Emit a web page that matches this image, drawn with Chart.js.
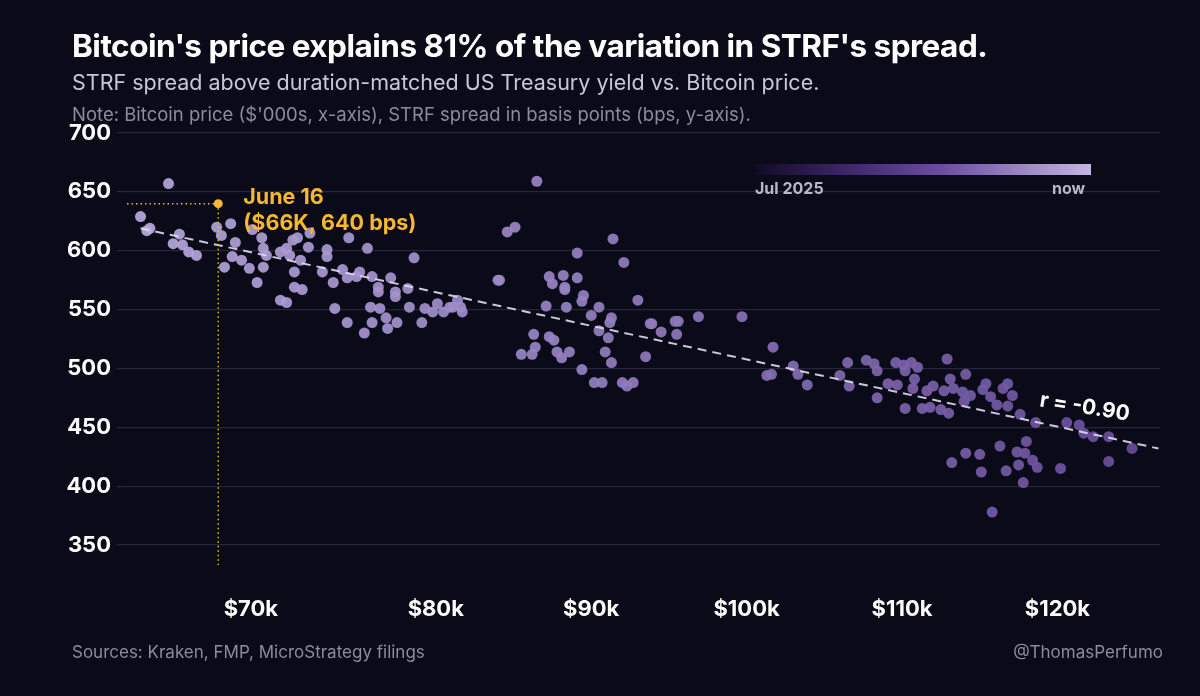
<!DOCTYPE html>
<html>
<head>
<meta charset="utf-8">
<script src="https://cdn.jsdelivr.net/npm/chart.js@4"></script>
<style>
  body { margin: 0; background: #0b0a18; font-family: Inter, "Noto Sans", sans-serif; }
  #wrap { position: relative; width: 1200px; height: 696px; overflow: hidden; }
  canvas { position: absolute; left: 0; top: 0; }
  .t { position: absolute; white-space: nowrap; }
</style>
</head>
<body>
<div id="wrap">
  <canvas id="c" width="1200" height="696"></canvas>
  <div class="t" style="left:72px;top:26px;font-size:31.5px;font-weight:700;color:#fff;letter-spacing:-0.5px">Bitcoin's price explains 81% of the variation in STRF's spread.</div>
  <div class="t" style="left:72px;top:69px;font-size:21.5px;color:#c9c7d6">STRF spread above duration-matched US Treasury yield vs. Bitcoin price.</div>
  <div class="t" style="left:72px;top:103px;font-size:18.5px;color:#8d8b9c">Note: Bitcoin price ($'000s, x-axis), STRF spread in basis points (bps, y-axis).</div>
  <div class="t" style="left:755px;top:164px;width:336px;height:11px;background:linear-gradient(90deg,#110b24,#3a2366 25%,#6a4c9e 55%,#c4b6e2)"></div>
  <div class="t" style="left:755px;top:178px;font-size:16px;font-weight:700;color:#b9b6c8">Jul 2025</div>
  <div class="t" style="left:1052px;top:178px;font-size:16px;font-weight:700;color:#b9b6c8">now</div>
  <div class="t" style="left:72px;top:642px;font-size:17px;color:#8d8b9c">Sources: Kraken, FMP, MicroStrategy filings</div>
  <div class="t" style="right:37px;top:642px;font-size:17px;color:#8d8b9c">@ThomasPerfumo</div>
</div>
<script>
// Bitcoin price ($'000s) and STRF spread (bps)
const btcPrice = [
  61.0,62.8,61.6,61.4,63.1,63.5,63.7,64.1,64.6,65.9,66.2,66.8,67.1,66.4,66.9,67.5,68.0,68.2,68.5,68.8,
  68.9,68.9,69.1,70.0,70.4,70.6,70.8,71.1,70.9,71.3,70.9,71.4,70.0,70.4,71.9,71.8,72.7,73.0,73.0,73.4,
  73.5,74.0,74.3,74.4,74.3,74.9,75.1,75.6,75.8,75.9,75.4,75.9,76.3,76.3,76.4,76.8,76.9,77.1,77.4,77.4,
  77.5,78.2,78.3,78.6,79.1,79.3,79.8,80.1,80.5,80.9,81.1,81.4,81.7,81.6,84.0,
  86.5,84.6,85.1,84.1,89.1,91.4,92.1,87.3,87.5,88.2,88.3,88.3,89.1,89.5,89.4,87.1,88.4,90.5,90.0,91.3,
  91.2,93.0,90.5,91.1,86.3,87.3,87.6,86.4,85.5,86.2,87.8,88.6,88.1,90.9,91.3,89.4,90.2,90.7,92.0,92.3,
  92.7,93.5,93.8,93.9,94.5,95.4,95.6,95.5,96.9,99.7,101.7,101.3,101.6,103.0,103.3,103.9,
  106.0,106.5,106.6,107.7,108.2,108.4,108.4,109.1,109.6,109.7,110.1,110.2,110.2,110.6,110.7,110.8,111.0,111.3,111.6,111.8,
  112.0,112.5,112.7,112.9,113.0,113.1,113.3,113.9,114.0,114.1,114.4,115.2,115.4,115.7,116.1,116.5,116.8,116.8,117.1,117.6,
  118.6,120.6,121.4,121.7,122.3,123.3,124.8,
  113.2,114.1,115.0,115.1,116.3,116.7,117.4,117.9,118.0,117.5,118.4,118.7,117.8,120.2,123.3,115.8
];
const strfSpread = [
  629,657,619,617,606,614,605,599,596,620,613,623,607,586,595,592,585,618,573,611,
  602,586,596,599,602,596,609,611,582,592,569,567,558,556,615,603,582,601,595,573,
  551,584,577,611,539,578,582,602,552,539,530,578,569,565,551,543,534,577,565,561,
  539,568,552,594,539,551,548,555,548,552,552,558,548,552,575,
  659,616,620,575,598,610,590,578,572,579,569,567,577,562,557,553,552,552,545,543,
  539,558,532,526,529,527,524,518,512,512,514,514,509,514,505,499,488,488,488,485,
  488,510,538,538,531,540,540,529,544,544,518,494,495,502,495,486,
  494,505,485,507,504,498,475,487,505,486,503,498,466,505,483,491,501,466,481,467,
  485,465,481,508,462,491,483,480,472,495,477,482,487,476,469,483,487,468,477,461,
  454,454,452,445,442,442,432,
  420,428,427,412,434,413,429,428,438,418,422,416,403,415,421,378
];
// regression line endpoints
const trendX = [61.0, 126.5];
const trendY = [619, 432];
const yTicks = [350, 400, 450, 500, 550, 600, 650, 700];
const xTicks = [68.1, 80, 90, 100, 110, 120];
const xTickLabels = ['$70k', '$80k', '$90k', '$100k', '$110k', '$120k'];

const points = btcPrice.map((x, i) => ({ x: x, y: strfSpread[i] }));
const light = [184, 170, 222], dark = [104, 78, 156];
function pointColor(ctx) {
  const p = ctx.raw;
  if (!p) return '#8a70c0';
  const t = Math.min(1, Math.max(0, (p.x - 61) / 64));
  const c = light.map((v, k) => Math.round(v + (dark[k] - v) * t));
  return 'rgba(' + c.join(',') + ',0.92)';
}

const annotate = {
  id: 'annotate',
  afterDatasetsDraw(chart) {
    const { ctx, scales: { x, y }, chartArea } = chart;
    const px = x.getPixelForValue(66), py = y.getPixelForValue(640);
    ctx.save();
    ctx.strokeStyle = '#f2b330';
    ctx.lineWidth = 1.5;
    ctx.setLineDash([1.5, 3]);
    ctx.beginPath();
    ctx.moveTo(chartArea.left + 2, py); ctx.lineTo(px, py);
    ctx.moveTo(px, py); ctx.lineTo(px, chartArea.bottom);
    ctx.stroke();
    ctx.setLineDash([]);
    ctx.fillStyle = '#f5b82e';
    ctx.beginPath(); ctx.arc(px, py, 4.5, 0, Math.PI * 2); ctx.fill();
    ctx.font = '700 21.5px Inter';
    ctx.textBaseline = 'middle';
    ctx.fillText('June 16', px + 25, py - 6);
    ctx.fillText('($66K, 640 bps)', px + 25, py + 20);
    // r label
    ctx.translate(1040, 400);
    ctx.rotate(0.16);
    ctx.fillStyle = '#ffffff';
    ctx.font = '700 21px Inter';
    ctx.fillText('r = -0.90', 0, 0);
    ctx.restore();
  }
};

new Chart(document.getElementById('c'), {
  type: 'scatter',
  data: {
    datasets: [
      {
        type: 'line',
        data: trendX.map((x, i) => ({ x: x, y: trendY[i] })),
        borderColor: 'rgba(225,220,240,0.9)',
        borderWidth: 2,
        borderDash: [9, 6],
        pointRadius: 0,
        order: 0
      },
      {
        data: points,
        backgroundColor: pointColor,
        borderWidth: 0,
        pointRadius: 5.5,
        order: 1
      }
    ]
  },
  options: {
    responsive: false,
    animation: false,
    layout: { padding: { left: 0, right: 40, top: 133, bottom: 71 } },
    plugins: { legend: { display: false }, tooltip: { enabled: false } },
    scales: {
      x: {
        type: 'linear',
        min: 60, max: 126.6,
        afterBuildTicks: s => { s.ticks = xTicks.map(v => ({ value: v })); },
        afterFit: s => { s.height = 60; },
        grid: { display: false },
        border: { display: false },
        ticks: {
          padding: 23,
          color: '#ffffff',
          font: { family: 'Inter', size: 22, weight: '700' },
          callback: (v, i) => xTickLabels[i]
        }
      },
      y: {
        min: 333, max: 700,
        afterBuildTicks: s => { s.ticks = yTicks.map(v => ({ value: v })); },
        afterFit: s => { s.width = 125; },
        grid: { color: '#27253a', lineWidth: 1.2 },
        border: { display: false },
        ticks: {
          padding: 6,
          color: '#ffffff',
          font: { family: 'Inter', size: 22, weight: '700' }
        }
      }
    }
  },
  plugins: [annotate]
});
</script>
</body>
</html>
